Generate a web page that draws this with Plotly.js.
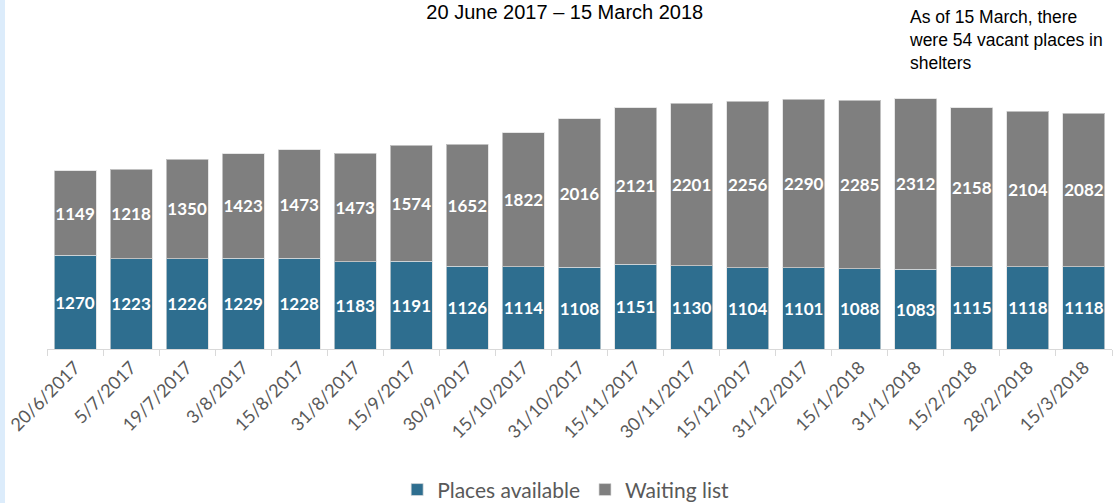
<!DOCTYPE html>
<html>
<head>
<meta charset="utf-8">
<script src="https://cdn.plot.ly/plotly-3.0.1.min.js"></script>
<style>
  html, body { margin: 0; padding: 0; background: #ffffff; }
  #chart { width: 1114px; height: 503px; }
  #strip { position: absolute; left: 0; top: 0; width: 5px; height: 503px; background: #dcecfb; z-index: 5; }
</style>
</head>
<body>
<div id="strip"></div>
<div id="chart"></div>
<script>
const dates = ["20/6/2017","5/7/2017","19/7/2017","3/8/2017","15/8/2017","31/8/2017","15/9/2017","30/9/2017","15/10/2017","31/10/2017","15/11/2017","30/11/2017","15/12/2017","31/12/2017","15/1/2018","31/1/2018","15/2/2018","28/2/2018","15/3/2018"];
const placesAvailable = [1270,1223,1226,1229,1228,1183,1191,1126,1114,1108,1151,1130,1104,1101,1088,1083,1115,1118,1118];
const waitingList = [1149,1218,1350,1423,1473,1473,1574,1652,1822,2016,2121,2201,2256,2290,2285,2312,2158,2104,2082];
const seriesNames = ["Places available", "Waiting list"];
const chartTitle = "20 June 2017 \u2013 15 March 2018";
const noteText = "As of 15 March, there<br>were 54 vacant places in<br>shelters";

const labelFont = {family: "Lato, 'Open Sans', sans-serif", size: 17, color: "#ffffff", weight: "bold"};
const barLine = {color: "rgba(220,220,220,0.7)", width: 1};

const traces = [
  {
    type: "bar", name: seriesNames[0], x: dates, y: placesAvailable,
    marker: {color: "#2e6e8f", line: barLine},
    texttemplate: "<b>%{y}</b>", textposition: "inside", insidetextanchor: "middle",
    textangle: 0, constraintext: "none", textfont: labelFont, hoverinfo: "x+y+name"
  },
  {
    type: "bar", name: seriesNames[1], x: dates, y: waitingList,
    marker: {color: "#7f7f7f", line: barLine},
    texttemplate: "<b>%{y}</b>", textposition: "inside", insidetextanchor: "middle",
    textangle: 0, constraintext: "none", textfont: labelFont, hoverinfo: "x+y+name"
  }
];

const layout = {
  width: 1114, height: 503,
  barmode: "stack", bargap: 0.25,
  paper_bgcolor: "#ffffff", plot_bgcolor: "#ffffff",
  margin: {l: 47, r: 2, t: 91, b: 154},
  title: {
    text: chartTitle, xref: "container", yref: "container",
    x: 0.507, xanchor: "center", y: 0.99, yanchor: "top",
    font: {family: "'Liberation Sans', Arial, sans-serif", size: 20, color: "#000000"}
  },
  xaxis: {
    type: "category", tickangle: -45,
    tickfont: {family: "Lato, 'Open Sans', sans-serif", size: 18, color: "#595959"},
    showline: true, linecolor: "#d9d9d9", linewidth: 1,
    ticks: "outside", tickson: "boundaries", ticklen: 6, tickcolor: "#d9d9d9",
    showgrid: false, zeroline: false
  },
  yaxis: {
    range: [0, 3500], visible: false, showgrid: false, zeroline: false
  },
  showlegend: true,
  legend: {
    orientation: "h", xref: "paper", x: 0.487, xanchor: "center",
    yref: "container", y: 0.026, yanchor: "middle",
    font: {family: "Lato, 'Open Sans', sans-serif", size: 21, color: "#595959"},
    itemwidth: 30,
    traceorder: "normal", itemclick: false
  },
  annotations: [
    {
      text: noteText, xref: "paper", yref: "paper",
      x: 0.8075, xanchor: "left", y: 1.333, yanchor: "top",
      align: "left", showarrow: false,
      font: {family: "'Liberation Sans', Arial, sans-serif", size: 17.5, color: "#000000"}
    }
  ]
};

Plotly.newPlot("chart", traces, layout, {staticPlot: true, displayModeBar: false});
</script>
</body>
</html>
